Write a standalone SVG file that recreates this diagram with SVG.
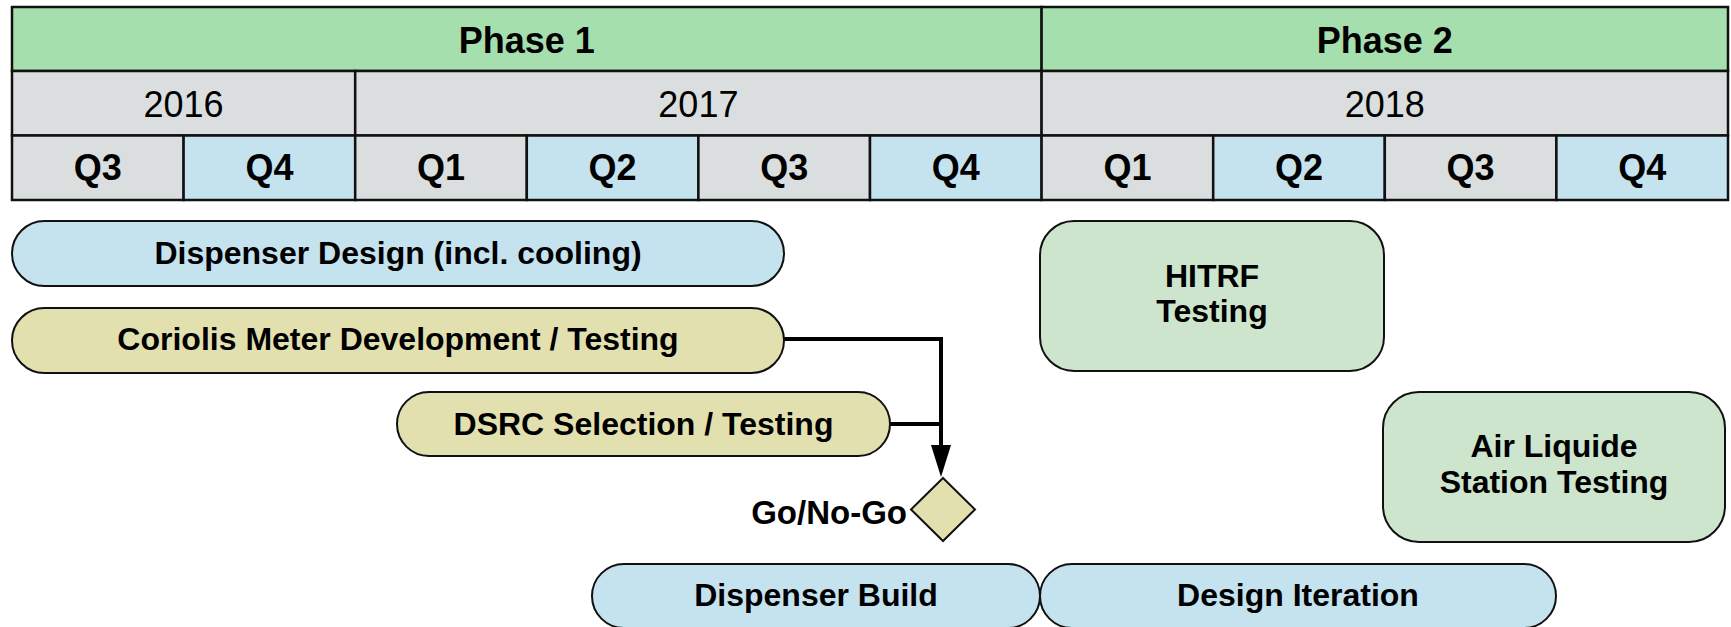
<svg xmlns="http://www.w3.org/2000/svg" width="1731" height="627" viewBox="0 0 1731 627">
<style>
text{font-family:"Liberation Sans",Arial,Helvetica,sans-serif;fill:#000;text-anchor:middle}
.b{font-weight:bold}
.hdr{font-size:36px}
.lbl{font-size:32px;font-weight:bold}
.cell{stroke:#111;stroke-width:2.5}
.phase{fill:#a6dfae}
.grey{fill:#dadedf}
.blue{fill:#c5e2ef}
.node{stroke:#111;stroke-width:2}
.khaki{fill:#e3e0b0}
.green{fill:#cce5cc}
.conn{fill:none;stroke:#000;stroke-width:4}
</style>
<rect width="1731" height="627" fill="#fff"/>
<g id="header">
  <rect class="cell phase" x="12" y="7" width="1029.6" height="64"/>
  <rect class="cell phase" x="1041.6" y="7" width="686.4" height="64"/>
  <text class="hdr b" x="526.8" y="53">Phase 1</text>
  <text class="hdr b" x="1384.8" y="53">Phase 2</text>
  <rect class="cell grey" x="12" y="71" width="343.2" height="64.5"/>
  <rect class="cell grey" x="355.2" y="71" width="686.4" height="64.5"/>
  <rect class="cell grey" x="1041.6" y="71" width="686.4" height="64.5"/>
  <text class="hdr" x="183.6" y="117">2016</text>
  <text class="hdr" x="698.4" y="117">2017</text>
  <text class="hdr" x="1384.8" y="117">2018</text>
  <rect class="cell grey" x="12" y="135.5" width="171.6" height="64.5"/>
  <rect class="cell blue" x="183.6" y="135.5" width="171.6" height="64.5"/>
  <rect class="cell grey" x="355.2" y="135.5" width="171.6" height="64.5"/>
  <rect class="cell blue" x="526.8" y="135.5" width="171.6" height="64.5"/>
  <rect class="cell grey" x="698.4" y="135.5" width="171.6" height="64.5"/>
  <rect class="cell blue" x="870" y="135.5" width="171.6" height="64.5"/>
  <rect class="cell grey" x="1041.6" y="135.5" width="171.6" height="64.5"/>
  <rect class="cell blue" x="1213.2" y="135.5" width="171.6" height="64.5"/>
  <rect class="cell grey" x="1384.8" y="135.5" width="171.6" height="64.5"/>
  <rect class="cell blue" x="1556.4" y="135.5" width="171.6" height="64.5"/>
  <text class="hdr b" x="97.8" y="180">Q3</text>
  <text class="hdr b" x="269.4" y="180">Q4</text>
  <text class="hdr b" x="441" y="180">Q1</text>
  <text class="hdr b" x="612.6" y="180">Q2</text>
  <text class="hdr b" x="784.2" y="180">Q3</text>
  <text class="hdr b" x="955.8" y="180">Q4</text>
  <text class="hdr b" x="1127.4" y="180">Q1</text>
  <text class="hdr b" x="1299" y="180">Q2</text>
  <text class="hdr b" x="1470.6" y="180">Q3</text>
  <text class="hdr b" x="1642.2" y="180">Q4</text>
</g>
<g id="connectors">
  <polyline class="conn" points="784,339 941,339 941,448"/>
  <line class="conn" x1="890" y1="424" x2="941" y2="424"/>
  <polygon points="931,445 951,445 941,477" fill="#000"/>
</g>
<g id="dispenser-design">
  <rect class="node blue" x="12" y="221" width="772" height="65" rx="32.5"/>
  <text class="lbl" x="398" y="264">Dispenser Design (incl. cooling)</text>
</g>
<g id="coriolis">
  <rect class="node khaki" x="12" y="308" width="772" height="65" rx="32.5"/>
  <text class="lbl" x="398" y="350">Coriolis Meter Development / Testing</text>
</g>
<g id="dsrc">
  <rect class="node khaki" x="397" y="392" width="493" height="64" rx="32"/>
  <text class="lbl" x="643.5" y="434.5">DSRC Selection / Testing</text>
</g>
<g id="go-no-go">
  <polygon class="node khaki" points="943,478 975,509.5 943,541 911,509.5"/>
  <text class="lbl" x="907" y="524" style="text-anchor:end;font-size:33px">Go/No-Go</text>
</g>
<g id="hitrf">
  <rect class="node green" x="1040" y="221" width="344" height="150" rx="34"/>
  <text class="lbl" x="1212" y="287">HITRF</text>
  <text class="lbl" x="1212" y="322">Testing</text>
</g>
<g id="air-liquide">
  <rect class="node green" x="1383" y="392" width="342" height="150" rx="36"/>
  <text class="lbl" x="1554" y="457">Air Liquide</text>
  <text class="lbl" x="1554" y="493">Station Testing</text>
</g>
<g id="dispenser-build">
  <rect class="node blue" x="592" y="564" width="448" height="64" rx="32"/>
  <text class="lbl" x="816" y="606">Dispenser Build</text>
</g>
<g id="design-iteration">
  <rect class="node blue" x="1040" y="564" width="516" height="64" rx="32"/>
  <text class="lbl" x="1298" y="606">Design Iteration</text>
</g>
</svg>
